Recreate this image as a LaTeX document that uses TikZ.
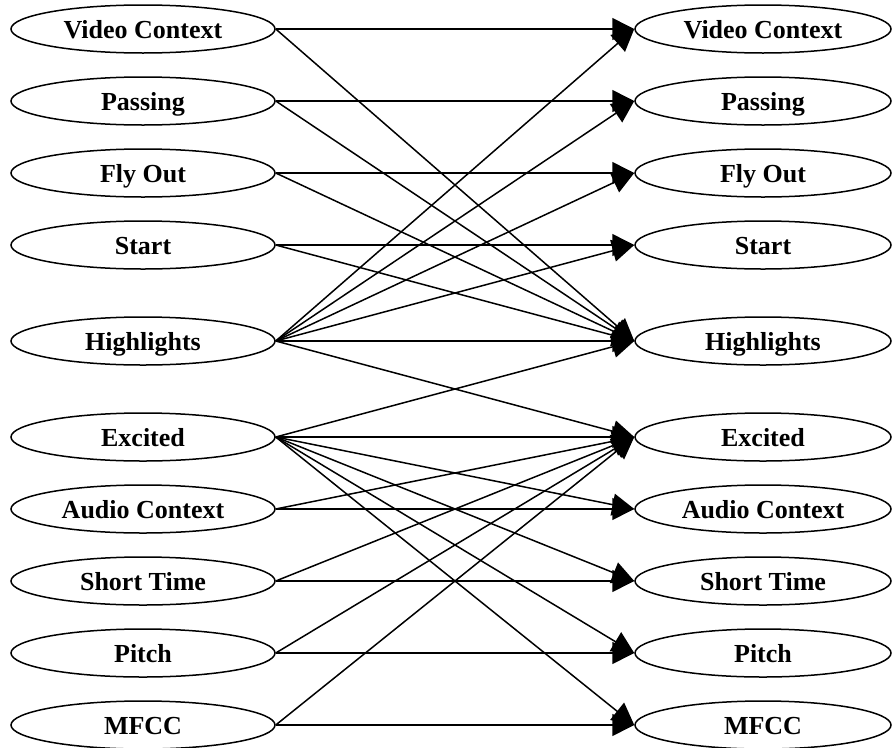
\documentclass[tikz,border=0pt]{standalone}
\usepackage{fontspec}
\setmainfont{Liberation Serif}
\usetikzlibrary{shapes.geometric,arrows.meta}
\begin{document}
\begin{tikzpicture}[x=1pt,y=-1pt,
  state/.style={ellipse,draw,line width=1.5pt,inner sep=0pt,
    minimum height=48pt,text height=18pt,text depth=0pt,
    font=\fontsize{26}{26}\selectfont\bfseries},
  src/.style={state,minimum width=264pt},
  dst/.style={state,minimum width=256pt},
  link/.style={line width=1.5pt,-{Triangle[length=22pt,width=22pt]}}]
\useasboundingbox (0,0) rectangle (893,747);

% feature nodes on both sides
\foreach \i/\y/\t in {1/29/Video Context,2/101/Passing,3/173/Fly Out,4/245/Start,
  5/341/Highlights,6/437/Excited,7/509/Audio Context,8/581/Short Time,
  9/653/Pitch,10/725/MFCC}{
  \node[src] (l\i) at (143,\y) {\t};
  \node[dst] (r\i) at (763,\y) {\t};
}

% connections from left column to right column
\foreach \a/\b in {1/1,1/5,2/2,2/5,3/3,3/5,4/4,4/5,
  5/1,5/2,5/3,5/4,5/5,5/6,
  6/5,6/6,6/7,6/8,6/9,6/10,
  7/6,7/7,8/6,8/8,9/6,9/9,10/6,10/10}{
  \draw[link] (l\a.east) -- (r\b.west);
}
\end{tikzpicture}
\end{document}
